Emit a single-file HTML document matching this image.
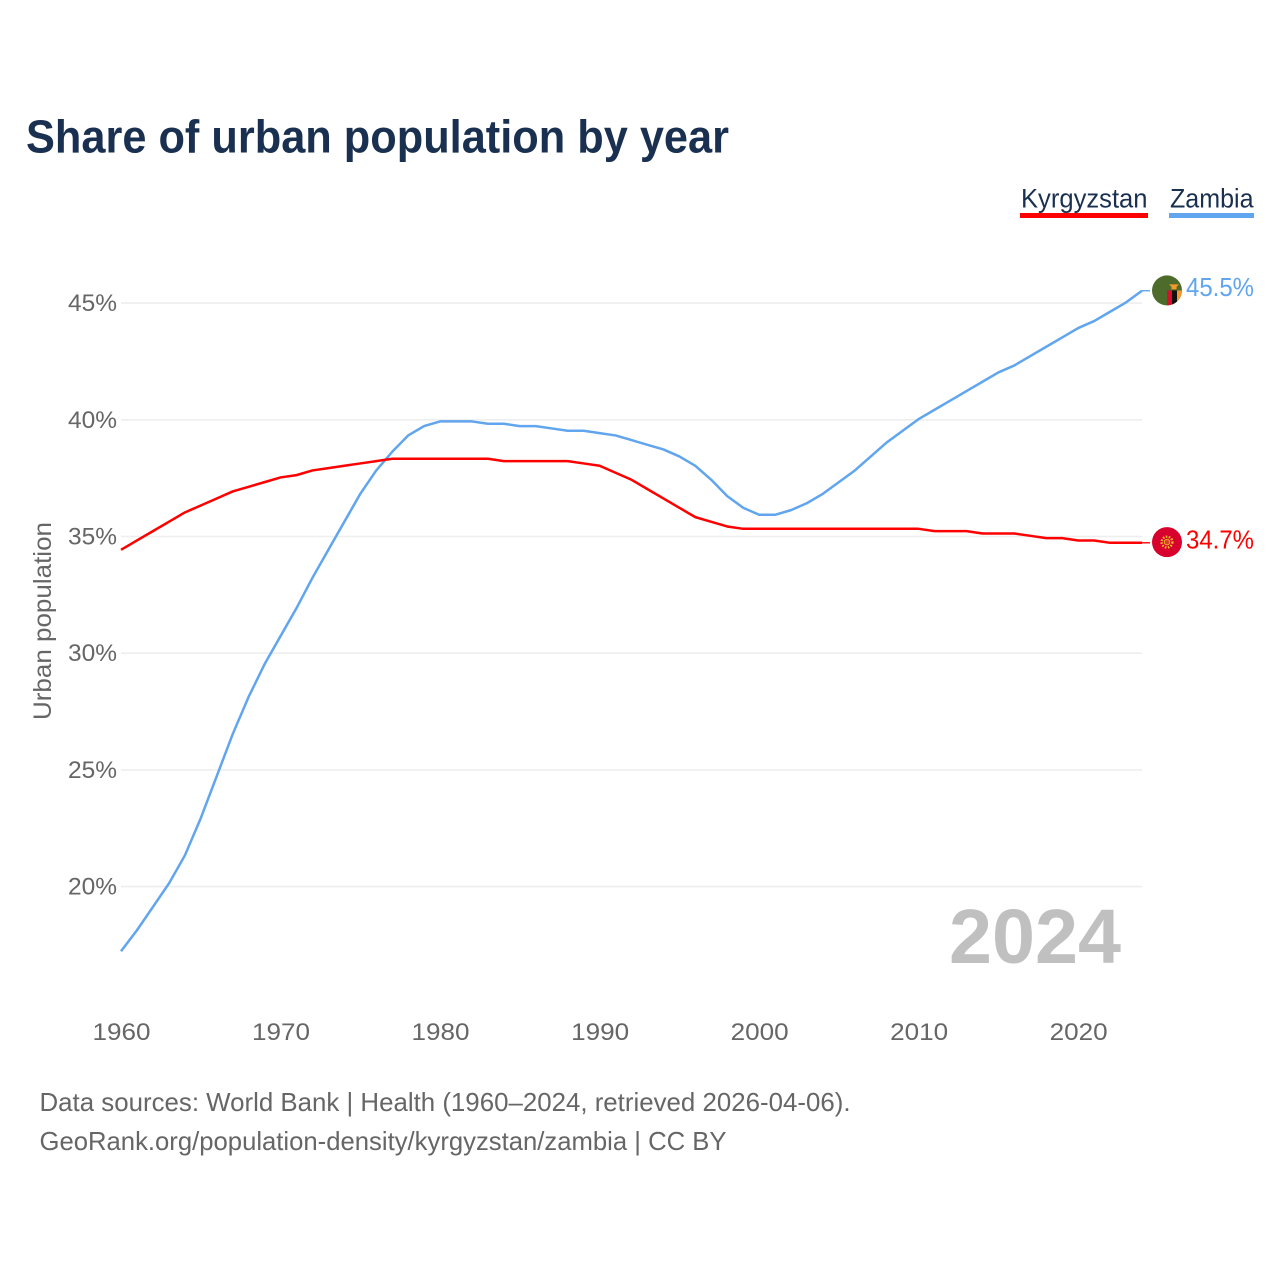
<!DOCTYPE html>
<html lang="en">
<head>
<meta charset="utf-8">
<title>Share of urban population by year</title>
<style>
html,body{margin:0;padding:0;background:#fff;}
svg{display:block;font-family:"Liberation Sans",sans-serif;}
</style>
</head>
<body>
<svg id="chart" xmlns="http://www.w3.org/2000/svg" width="1280" height="1280" viewBox="0 0 1280 1280">
  <rect x="0" y="0" width="1280" height="1280" fill="#ffffff"/>
  <text x="26" y="152.5" font-size="46" font-weight="700" fill="#1a3050" textLength="703" lengthAdjust="spacingAndGlyphs">Share of urban population by year</text>

  <g>
    <text x="1021" y="207.5" font-size="27" fill="#1a3050" textLength="126.500" lengthAdjust="spacingAndGlyphs">Kyrgyzstan</text>
    <rect x="1020" y="213" width="128" height="5" fill="#ff0000"/>
  </g>
  <g>
    <text x="1170" y="207.5" font-size="27" fill="#1a3050" textLength="83.500" lengthAdjust="spacingAndGlyphs">Zambia</text>
    <rect x="1169" y="213" width="85" height="5" fill="#60a5ee"/>
  </g>

  <text transform="translate(51 621) rotate(-90)" text-anchor="middle" font-size="25" fill="#666666" textLength="198" lengthAdjust="spacingAndGlyphs">Urban population</text>

  <g id="grid"></g>
  <g id="y-ticks"></g>
  <g id="x-ticks"></g>

  <text x="1121" y="963" text-anchor="end" font-size="77" font-weight="700" fill="#c0c0c0" textLength="172" lengthAdjust="spacingAndGlyphs">2024</text>

  <g id="series"></g>
  <g id="markers"></g>

  <text x="39.500" y="1111" font-size="26" fill="#666666" textLength="811" lengthAdjust="spacingAndGlyphs">Data sources: World Bank | Health (1960–2024, retrieved 2026-04-06).</text>
  <text x="39.500" y="1150" font-size="26" fill="#666666" textLength="687" lengthAdjust="spacingAndGlyphs">GeoRank.org/population-density/kyrgyzstan/zambia | CC BY</text>
</svg>
<script>
const startYear = 1960;
const yTickValues = [20, 25, 30, 35, 40, 45];
const xTickValues = [1960, 1970, 1980, 1990, 2000, 2010, 2020];
const kyrgyzstanValues = [
  34.43, 34.83, 35.23, 35.63, 36.03, 36.33, 36.63, 36.93, 37.13, 37.33,
  37.53, 37.63, 37.83, 37.93, 38.03, 38.13, 38.23, 38.33, 38.33, 38.33,
  38.33, 38.33, 38.33, 38.33, 38.23, 38.23, 38.23, 38.23, 38.23, 38.13,
  38.03, 37.73, 37.43, 37.03, 36.63, 36.23, 35.83, 35.63, 35.43, 35.33,
  35.33, 35.33, 35.33, 35.33, 35.33, 35.33, 35.33, 35.33, 35.33, 35.33,
  35.33, 35.23, 35.23, 35.23, 35.13, 35.13, 35.13, 35.03, 34.93, 34.93,
  34.83, 34.83, 34.73, 34.73, 34.73
];
const zambiaValues = [
  17.23, 18.13, 19.13, 20.13, 21.33, 22.93, 24.73, 26.53, 28.13, 29.53,
  30.73, 31.93, 33.23, 34.43, 35.63, 36.83, 37.83, 38.63, 39.33, 39.73,
  39.93, 39.93, 39.93, 39.83, 39.83, 39.73, 39.73, 39.63, 39.53, 39.53,
  39.43, 39.33, 39.13, 38.93, 38.73, 38.43, 38.03, 37.43, 36.73, 36.23,
  35.93, 35.93, 36.13, 36.43, 36.83, 37.33, 37.83, 38.43, 39.03, 39.53,
  40.03, 40.43, 40.83, 41.23, 41.63, 42.03, 42.33, 42.73, 43.13, 43.53,
  43.93, 44.23, 44.63, 45.03, 45.53
];
const kyrgyzstanLabel = "34.7%";
const zambiaLabel = "45.5%";

const NS = "http://www.w3.org/2000/svg";
function xScale(year) { return 121 + (year - 1960) * 15.953; }
function yScale(v) { return 886.6 - (v - 20) * 23.34; }
function make(tag, attrs, parent) {
  const el = document.createElementNS(NS, tag);
  for (const k in attrs) el.setAttribute(k, attrs[k]);
  parent.appendChild(el);
  return el;
}

const grid = document.getElementById("grid");
const yTicks = document.getElementById("y-ticks");
const xTicks = document.getElementById("x-ticks");
const series = document.getElementById("series");
const markers = document.getElementById("markers");
const lastYear = startYear + zambiaValues.length - 1;

yTickValues.forEach(function (v) {
  const line = make("line", {x1: 121, x2: xScale(lastYear), y1: yScale(v), y2: yScale(v), stroke: "#eeeeee", "stroke-width": 1.6}, grid);
  
  
  const label = make("text", {x: 117, y: yScale(v) + 8, "text-anchor": "end", "font-size": 24.500, fill: "#666666", textLength: 49, lengthAdjust: "spacingAndGlyphs"}, yTicks);
  
  
  label.textContent = v + "%";
});

xTickValues.forEach(function (yr) {
  const label = make("text", {x: xScale(yr) + 0.5, y: 1040, "text-anchor": "middle", "font-size": 24.500, fill: "#666666", textLength: 58, lengthAdjust: "spacingAndGlyphs"}, xTicks);
  
  
  label.textContent = yr;
});

function linePath(values) {
  let d = "";
  values.forEach(function (v, i) {
    d += (i ? "L" : "M") + xScale(startYear + i).toFixed(2) + " " + yScale(v).toFixed(2);
  });
  return d;
}
function stubPath(values) {
  const y = yScale(values[values.length - 1]).toFixed(2);
  return "M" + xScale(lastYear).toFixed(2) + " " + y + "H1150";
}

const zambiaLine = make("path", {d: linePath(zambiaValues), fill: "none", stroke: "#60a5ee", "stroke-width": 2.5, "stroke-linejoin": "round"}, series);


const zambiaStub = make("path", {d: stubPath(zambiaValues), fill: "none", stroke: "#60a5ee", "stroke-width": 1.4}, series);


const kyrgyzstanLine = make("path", {d: linePath(kyrgyzstanValues), fill: "none", stroke: "#ff0000", "stroke-width": 2.5, "stroke-linejoin": "round"}, series);


const kyrgyzstanStub = make("path", {d: stubPath(kyrgyzstanValues), fill: "none", stroke: "#ff0000", "stroke-width": 1.4}, series);



const defs = make("defs", {}, markers);
const zClip = make("clipPath", {id: "zambia-clip"}, defs);
make("circle", {cx: 0, cy: 0, r: 15}, zClip);

const zy = yScale(zambiaValues[zambiaValues.length - 1]);
const zFlag = make("g", {transform: "translate(1167 " + (zy - 0.3).toFixed(2) + ")", "clip-path": "url(#zambia-clip)"}, markers);


make("rect", {x: -16, y: -16, width: 32, height: 32, fill: "#4d6b2b"}, zFlag);
make("rect", {x: 0, y: 0, width: 5, height: 16, fill: "#d8102c"}, zFlag);
make("rect", {x: 5, y: 0, width: 5, height: 16, fill: "#111111"}, zFlag);
make("rect", {x: 10, y: 0, width: 6, height: 16, fill: "#f7982a"}, zFlag);
make("path", {d: "M2 -6L12 -6L9.500 -3.500L9.500 -1L4.500 -1L4.500 -3.500Z", fill: "#f7982a"}, zFlag);

const ky = yScale(kyrgyzstanValues[kyrgyzstanValues.length - 1]);
const kFlag = make("g", {transform: "translate(1167 " + (ky - 0.7).toFixed(2) + ")"}, markers);


make("circle", {cx: 0, cy: 0, r: 15, fill: "#d8002c"}, kFlag);
make("circle", {cx: 0, cy: 0, r: 5.4, fill: "none", stroke: "#f0b92a", "stroke-width": 2.4, "stroke-dasharray": "1.6 1.4"}, kFlag);
make("circle", {cx: 0, cy: 0, r: 2.8, fill: "#d8402a", stroke: "#f0b92a", "stroke-width": 0.9}, kFlag);

const zText = make("text", {x: 1254, y: zy + 5.5, "text-anchor": "end", "font-size": 25.500, fill: "#60a5ee", textLength: 68, lengthAdjust: "spacingAndGlyphs"}, markers);


zText.textContent = zambiaLabel;
const kText = make("text", {x: 1254, y: ky + 5.5, "text-anchor": "end", "font-size": 25.500, fill: "#ff0000", textLength: 68, lengthAdjust: "spacingAndGlyphs"}, markers);


kText.textContent = kyrgyzstanLabel;
</script>
</body>
</html>
